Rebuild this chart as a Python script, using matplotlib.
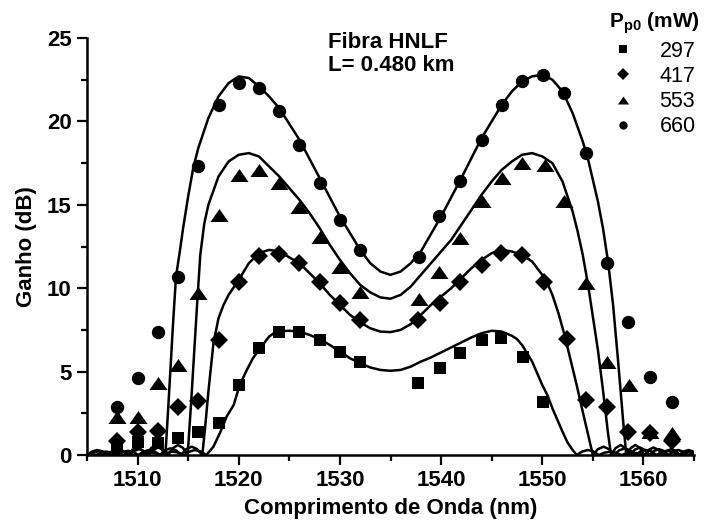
import matplotlib
matplotlib.use("Agg")
import matplotlib.pyplot as plt
from matplotlib.lines import Line2D
from matplotlib.ticker import MultipleLocator

plt.rcParams.update({
    "font.family": ["Liberation Sans", "DejaVu Sans"],
    "font.size": 16,
    "font.weight": "bold",
    "mathtext.fontset": "custom",
    "mathtext.rm": "Liberation Sans",
    "mathtext.bf": "Liberation Sans:bold",
})

# measured points (wavelength nm, gain dB)
lam_297 = [1508, 1510, 1512, 1514, 1516, 1518, 1520, 1522, 1524, 1526, 1528, 1530, 1532,
           1537.7, 1539.9, 1541.9, 1544, 1545.9, 1548.1, 1550.1]
gain_297 = [0.3, 0.8, 0.7, 1.0, 1.4, 1.9, 4.2, 6.4, 7.4, 7.4, 6.9, 6.2, 5.6,
            4.3, 5.2, 6.1, 6.9, 7.0, 5.9, 3.2]

lam_417 = [1508, 1510, 1512, 1514, 1516, 1518, 1520, 1522, 1524, 1526, 1528, 1530, 1532,
           1537.7, 1539.9, 1541.9, 1544, 1545.9, 1548, 1550.2, 1552.4, 1554.3, 1556.4,
           1558.5, 1560.6, 1562.8]
gain_417 = [0.85, 1.35, 1.45, 2.85, 3.25, 6.9, 10.4, 11.95, 12.05, 11.5, 10.4, 9.1, 8.1,
            8.1, 9.1, 10.4, 11.4, 12.1, 12.0, 10.4, 6.95, 3.3, 2.85,
            1.35, 1.3, 0.85]

lam_553 = [1508, 1510, 1512, 1514, 1516, 1518, 1520, 1522, 1524, 1526, 1528, 1530, 1532,
           1537.8, 1539.8, 1541.9, 1544, 1546, 1548, 1550.3, 1552.1, 1554.3, 1556.4,
           1558.6, 1560.6, 1562.8]
gain_553 = [2.3, 2.3, 4.3, 5.4, 9.7, 14.4, 16.8, 17.1, 16.3, 14.85, 13.1, 11.3, 9.8,
            9.35, 11.0, 13.0, 15.2, 16.6, 17.5, 17.4, 15.2, 10.3, 5.6,
            4.2, 1.4, 1.3]

lam_660 = [1508, 1510, 1512, 1514, 1516, 1518, 1520, 1522, 1524, 1526, 1528, 1530, 1532,
           1537.8, 1539.8, 1541.9, 1544, 1546, 1548, 1550.1, 1552.1, 1554.3, 1556.4,
           1558.5, 1560.6, 1562.8]
gain_660 = [2.9, 4.6, 7.4, 10.7, 17.3, 21.0, 22.3, 22.0, 20.6, 18.6, 16.3, 14.1, 12.3,
            11.9, 14.3, 16.4, 18.9, 21.0, 22.4, 22.8, 21.7, 18.1, 11.5,
            8.0, 4.7, 3.2]

# theoretical curves
fit_lam_297 = [1505.0, 1510.2, 1510.75, 1511.3, 1511.85, 1512.4, 1512.95, 1513.5, 1514.05, 1514.6,
               1515.15, 1515.7, 1516.25, 1516.8, 1517.5, 1518.2, 1518.8, 1519.5, 1520.1, 1520.8,
               1521.4, 1522, 1523, 1523.7, 1525, 1526, 1527, 1528, 1529, 1530, 1531, 1532, 1533,
               1534, 1535, 1536, 1537, 1538, 1539, 1540, 1541, 1542, 1543, 1544, 1545, 1546,
               1547, 1547.5, 1548, 1548.5, 1549, 1549.5, 1550, 1550.5, 1551, 1551.5, 1552,
               1552.5, 1553, 1553.4, 1553.95, 1554.5, 1555.05, 1555.6, 1556.15, 1556.7,
               1557.25, 1557.8, 1558.35, 1558.9, 1559.45, 1560.0, 1565.0]
fit_gain_297 = [0, 0, 0.1, 0.15, 0.1, 0, 0.14, 0.2, 0.14, 0,
                0.21, 0.3, 0.21, 0, 0.5, 1.4, 2.3, 3.0, 4.2, 5.1,
                5.8, 6.3, 7.1, 7.4, 7.45, 7.4, 7.2, 6.95, 6.6, 6.2, 5.8, 5.5, 5.25,
                5.1, 5.05, 5.1, 5.3, 5.6, 5.85, 6.15, 6.45, 6.75, 7.05, 7.3, 7.45, 7.4,
                7.15, 6.95, 6.6, 6.1, 5.6, 4.9, 4.2, 3.6, 2.8, 2.1, 1.4,
                0.75, 0.3, 0, 0.21, 0.3, 0.21, 0, 0.14, 0.2,
                0.14, 0, 0.1, 0.15, 0.1, 0, 0]

fit_lam_417 = [1505.0, 1505.9, 1506.4, 1506.95, 1507.5, 1508.0, 1508.5, 1509.05, 1509.6, 1510.1,
               1510.6, 1511.15, 1511.7, 1512.2, 1512.7, 1513.25, 1513.8, 1514.3, 1514.8,
               1515.35, 1515.9, 1516.4, 1516.7, 1517.0, 1517.5, 1518, 1518.5, 1519, 1520,
               1521, 1522, 1523, 1524, 1525, 1526, 1527, 1528, 1529, 1530, 1531, 1532, 1533,
               1534, 1535, 1536, 1537, 1538, 1539, 1540, 1541, 1542, 1543, 1544, 1545, 1546,
               1547, 1548, 1549, 1550, 1550.5, 1551, 1551.6, 1552.2, 1552.8, 1553.4, 1554,
               1554.5, 1555.0, 1555.5, 1556.05, 1556.6, 1557.1, 1557.6, 1558.15, 1558.7,
               1559.2, 1559.7, 1560.25, 1560.8, 1561.3, 1561.8, 1562.35, 1562.9, 1563.4,
               1563.9, 1564.45, 1565.0]
fit_gain_417 = [0, 0, 0.14, 0.2, 0.14, 0, 0.18, 0.25, 0.18, 0,
                0.21, 0.3, 0.21, 0, 0.28, 0.4, 0.28, 0, 0.35,
                0.5, 0.35, 0, 1.8, 3.8, 6.7, 8.2, 9.0, 9.6, 10.5,
                11.5, 12.1, 12.3, 12.2, 11.85, 11.5, 10.9, 10.3, 9.6, 9.0, 8.4, 7.95, 7.6,
                7.4, 7.37, 7.5, 7.85, 8.4, 9.0, 9.5, 10.0, 10.6, 11.2, 11.7, 12.1, 12.3,
                12.2, 12.0, 11.6, 10.8, 10.3, 9.6, 8.5, 7.2, 5.7, 4.2, 2.6,
                1.3, 0, 0.35, 0.5, 0.35, 0, 0.28, 0.4, 0.28,
                0, 0.21, 0.3, 0.21, 0, 0.18, 0.25, 0.18, 0,
                0.14, 0.2, 0.14]

fit_lam_553 = [1505.0, 1505.3, 1505.8, 1506.3, 1506.8, 1507.3, 1507.75, 1508.25, 1508.7, 1509.2,
               1509.65, 1510.15, 1510.6, 1511.1, 1511.55, 1512.05, 1512.5, 1513.0, 1513.5,
               1514.0, 1514.5, 1514.95, 1515.3, 1515.6, 1515.9, 1516.2, 1516.6, 1517, 1518,
               1519, 1520, 1521, 1522, 1523, 1524, 1525, 1526, 1527, 1528, 1529, 1530, 1531,
               1532, 1533, 1534, 1535, 1536, 1537, 1538, 1539, 1540, 1541, 1542, 1543, 1544,
               1545, 1546, 1547, 1548, 1549, 1550, 1551, 1552, 1553, 1553.5, 1554, 1554.5,
               1555, 1555.5, 1556, 1556.5, 1556.8, 1557.25, 1557.75, 1558.2, 1558.7, 1559.15,
               1559.65, 1560.1, 1560.6, 1561.05, 1561.55, 1562.0, 1562.5, 1562.95, 1563.45,
               1563.9, 1564.4, 1565.0]
fit_gain_553 = [0, 0, 0.18, 0.25, 0.18, 0, 0.21, 0.3, 0.21, 0,
                0.25, 0.35, 0.25, 0, 0.32, 0.45, 0.32, 0, 0.42,
                0.6, 0.42, 0, 3.2, 6.2, 9.2, 12.0, 13.9, 15.0, 16.7,
                17.6, 18.0, 18.1, 17.9, 17.3, 16.7, 16.0, 15.3, 14.5, 13.6, 12.6, 11.7, 10.9,
                10.2, 9.75, 9.45, 9.37, 9.6, 10.1, 10.8, 11.5, 12.2, 12.9, 13.8, 14.7, 15.6,
                16.4, 17.1, 17.6, 18.0, 18.1, 17.9, 17.5, 16.4, 14.6, 13.4, 12.0, 10.3,
                8.3, 6.3, 3.9, 1.3, 0, 0.42, 0.6, 0.42, 0, 0.32,
                0.45, 0.32, 0, 0.25, 0.35, 0.25, 0, 0.21, 0.3,
                0.21, 0, 0.15]

fit_lam_660 = [1505.0, 1505.5, 1506.0, 1506.5, 1507.0, 1507.5, 1508.0, 1508.5, 1509.0, 1509.5,
               1509.95, 1510.4, 1510.9, 1511.35, 1511.8, 1512.3, 1512.75, 1513.0, 1513.5,
               1513.8, 1514.2, 1514.5, 1515.0, 1515.5, 1516, 1517, 1518, 1519, 1520, 1521,
               1522, 1523, 1524, 1526, 1528, 1530, 1532, 1533, 1534, 1535, 1536, 1537, 1538,
               1540, 1542, 1544, 1546, 1547, 1548, 1549, 1550, 1551, 1552, 1553, 1554,
               1554.5, 1555, 1555.5, 1556, 1556.5, 1557, 1557.5, 1558, 1558.3, 1558.75,
               1559.2, 1559.65, 1560.1, 1560.55, 1561.0, 1561.45, 1561.9, 1562.3, 1562.75,
               1563.2, 1563.6, 1564.0, 1564.45, 1564.9, 1565.3]
fit_gain_660 = [0, 0.21, 0.3, 0.21, 0, 0.25, 0.35, 0.25, 0, 0.32,
                0.45, 0.32, 0, 0.42, 0.6, 0.42, 0, 2.5, 7.8,
                10.7, 12.3, 13.6, 15.5, 17.2, 18.4, 20.2, 21.5, 22.3, 22.7, 22.6,
                22.1, 21.5, 20.8, 18.9, 16.6, 14.3, 12.3, 11.5, 11.0, 10.8, 11.0, 11.5, 12.2,
                14.3, 16.6, 19.0, 21.0, 21.8, 22.4, 22.7, 22.8, 22.5, 21.8, 20.5, 18.8,
                17.8, 16.5, 15.2, 13.6, 11.6, 9.0, 5.6, 2.0, 0, 0.42,
                0.6, 0.42, 0, 0.32, 0.45, 0.32, 0, 0.25, 0.35,
                0.25, 0, 0.21, 0.3, 0.21, 0]

# wide, flat triangle like the original marker
tri = [(-1, -0.72), (1, -0.72), (0, 0.72)]

series = [
    ("297", lam_297, gain_297, fit_lam_297, fit_gain_297, "s", 9.0, 5.5),
    ("417", lam_417, gain_417, fit_lam_417, fit_gain_417, "D", 9.5, 6.5),
    ("553", lam_553, gain_553, fit_lam_553, fit_gain_553, tri, 13.0, 8.0),
    ("660", lam_660, gain_660, fit_lam_660, fit_gain_660, "o", 9.6, 6.0),
]

fig = plt.figure(figsize=(7.1, 5.31), dpi=100)
ax = fig.add_axes([0.1225, 0.1431, 0.855, 0.7853])

handles = []
for name, lx, gy, fx, fy, mk, ms, lms in series:
    ax.plot(fx, fy, color="black", linewidth=1.8, zorder=2)
    ax.plot(lx, gy, linestyle="none", marker=mk, markersize=ms, color="black",
            markeredgewidth=0, zorder=3)
    handles.append(Line2D([], [], linestyle="none", marker=mk, markersize=lms,
                          color="black", markeredgewidth=0))

ax.set_xlim(1505, 1565)
ax.set_ylim(0, 25)
ax.xaxis.set_major_locator(MultipleLocator(10))
ax.xaxis.set_minor_locator(MultipleLocator(5))
ax.yaxis.set_major_locator(MultipleLocator(5))
ax.yaxis.set_minor_locator(MultipleLocator(2.5))
ax.spines[["top", "right"]].set_visible(False)
for s in ("left", "bottom"):
    ax.spines[s].set_linewidth(1.8)
ax.tick_params(which="major", direction="out", length=7, width=1.6, labelsize=16, pad=4)
ax.tick_params(which="minor", direction="out", length=4, width=1.6)
ax.set_xlabel("Comprimento de Onda (nm)", fontsize=16, fontweight="bold", labelpad=5)
ax.set_ylabel("Ganho (dB)", fontsize=16, fontweight="bold", labelpad=7)

fig.text(328 / 710, 1 - 32 / 531, "Fibra HNLF\nL= 0.480 km", fontsize=16,
         fontweight="bold", ha="left", va="top", linespacing=1.1)

leg = fig.legend(handles, ["297", "417", "553", "660"], loc="upper right",
                 bbox_to_anchor=(1.0, 1.0), frameon=False, fontsize=15.5,
                 title=r"$\mathbf{P_{p0}}$ (mW)",
                 title_fontproperties={"weight": "bold", "size": 15},
                 handlelength=1.0, handletextpad=1.2, labelspacing=0.2,
                 borderaxespad=0.3, borderpad=0.2)
for t in leg.get_texts():
    t.set_fontweight("normal")

fig.savefig("out.png", dpi=100)
